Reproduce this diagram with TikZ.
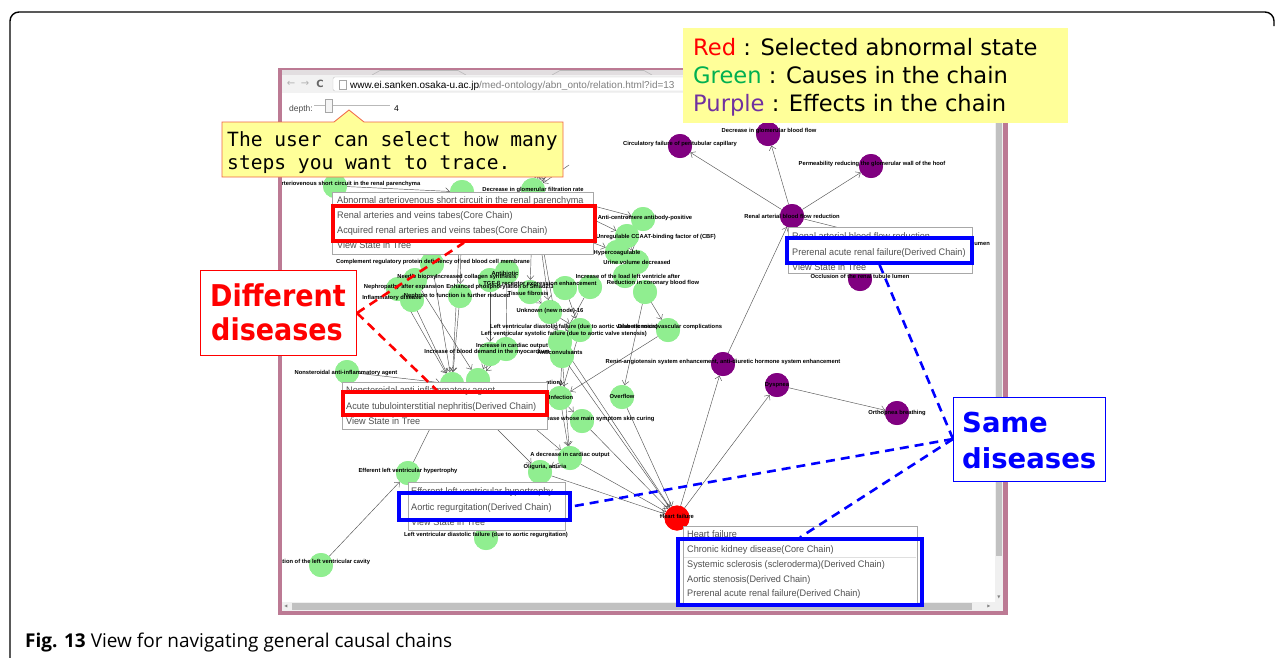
\documentclass[tikz,border=0pt]{standalone}
\usepackage{fontspec}
\usepackage{graphicx}
\setmainfont{Liberation Sans}
\newfontfamily\dejavu{DejaVu Sans}
\newfontfamily\dejavumono{DejaVu Sans Mono}
\newfontfamily\capfont{Open Sans}
\usetikzlibrary{arrows.meta}

\definecolor{winframe}{RGB}{188,122,148}
\definecolor{tabgray}{RGB}{226,222,224}
\definecolor{toolbar}{RGB}{242,242,242}
\definecolor{lgreen}{RGB}{144,238,144}
\definecolor{dpurple}{RGB}{128,0,128}
\definecolor{noteyellow}{RGB}{255,255,153}
\definecolor{calloutedge}{RGB}{240,100,70}
\definecolor{menuedge}{RGB}{168,168,168}
\definecolor{menutext}{RGB}{80,80,80}
\definecolor{officegreen}{RGB}{0,176,80}
\definecolor{officepurple}{RGB}{112,48,160}
\definecolor{edgegray}{RGB}{85,85,85}
\definecolor{scrolltrack}{RGB}{240,240,240}
\definecolor{scrollthumb}{RGB}{193,193,193}

\newcommand{\mtxt}[1]{\scalebox{0.96}[1]{#1}}

\begin{document}
\begin{tikzpicture}[x=1pt,y=-1pt,
  gnode/.style={circle,fill=lgreen,minimum size=24pt,inner sep=0pt},
  pnode/.style={circle,fill=dpurple,minimum size=24pt,inner sep=0pt},
  rnode/.style={circle,fill=red,minimum size=25pt,inner sep=0pt},
  glabel/.style={inner sep=0pt,font=\fontsize{5.8}{6.5}\selectfont\bfseries},
  edge/.style={draw=edgegray,line width=0.45pt,-{Straight Barb[length=4pt,width=7pt]}},
  menubox/.style={draw=menuedge,fill=white,line width=0.7pt,inner sep=0pt},
  mitem/.style={anchor=base west,inner sep=0pt,text=menutext,font=\fontsize{9.5}{11}\selectfont},
  redhl/.style={draw=red,line width=3.3pt,inner sep=0pt},
  bluehl/.style={draw=blue,line width=3.3pt,inner sep=0pt},
  reddash/.style={draw=red,line width=2.6pt,dash pattern=on 9pt off 6pt},
  bluedash/.style={draw=blue,line width=2.6pt,dash pattern=on 9pt off 6pt},
  chrome/.style={inner sep=0pt,text=gray}
]
\useasboundingbox (0,0) rectangle (1284,657);
\fill[white] (0,0) rectangle (1284,657);

% ---------- browser window ----------
\fill[winframe] (278,68) rectangle (1008,615);
\fill[tabgray] (282,70) rectangle (1003,75);
\draw[gray!55,line width=0.6pt] (372,75) -- (380,70.5) -- (458,70.5) -- (466,75);
\draw[gray!55,line width=0.6pt] (552,75) -- (560,70.5) -- (644,70.5) -- (652,75);
\fill[toolbar] (282,75) rectangle (1003,93);
\node[chrome,font=\dejavu\fontsize{10}{12}\selectfont,text=gray!60] (back) at (291,84) {←};
\node[chrome,font=\dejavu\fontsize{10}{12}\selectfont,text=gray!60] (fwd) at (305,84) {→};
\node[chrome,font=\dejavu\fontsize{10}{12}\selectfont\bfseries,text=gray!80!black] (reload) at (320,84) {C};
\draw[gray!45,fill=white,rounded corners=2pt] (333,77) rectangle (760,91);
\draw[gray!70,line width=0.5pt] (339,80) rectangle (346,89);
\node[anchor=base west,inner sep=0pt,font=\fontsize{10}{12}\selectfont] (url) at (350,88)
  {www.ei.sanken.osaka-u.ac.jp\textcolor{gray}{/med-ontology/abn\_onto/relation.html?id=13}};
\fill[white] (282,93) rectangle (995,602);

% depth slider
\node[anchor=base west,inner sep=0pt,text=black!70,font=\fontsize{8.5}{10}\selectfont] (depthlbl) at (289,111) {depth:};
\draw[gray!55,line width=1pt] (314,105) -- (390,105);
\node[draw=gray!70,fill=gray!8,minimum width=7pt,minimum height=13pt,inner sep=0pt] (knob) at (329,106) {};
\node[anchor=base west,inner sep=0pt,font=\fontsize{8.5}{10}\selectfont] (depthval) at (394,111) {4};

% scrollbars
\fill[scrolltrack] (995,93) rectangle (1003,611);
\fill[scrollthumb] (996,96) rectangle (1002,556);
\fill[scrolltrack] (282,602) rectangle (995,611);
\fill[scrollthumb] (292,603) rectangle (972,610);
\node[chrome,font=\dejavu\fontsize{4}{5}\selectfont] (vdown) at (999,597) {▼};
\node[chrome,font=\dejavu\fontsize{4}{5}\selectfont] (hleft) at (286,606.5) {◀};
\node[chrome,font=\dejavu\fontsize{4}{5}\selectfont] (hright) at (989,606.5) {▶};

% ---------- causal chain graph ----------
\begin{scope}
\clip (282,93) rectangle (995,602);

% purple: effects
\node[pnode] (pA) at (680,146) {};
\node[pnode] (pB) at (768,134) {};
\node[pnode] (pC) at (871,166) {};
\node[pnode] (pD) at (792,216) {};
\node[pnode] (pE) at (860,279) {};
\node[pnode] (pX) at (912,246) {};
\node[pnode] (pF) at (723,364) {};
\node[pnode] (pG) at (777,385) {};
\node[pnode] (pH) at (897,413) {};
% red: selected state
\node[rnode] (hf) at (677,518) {};
% green: causes
\node[gnode] (g01) at (335,186) {};
\node[gnode] (g02) at (462,192) {};
\node[gnode] (hub) at (533,190) {};
\node[gnode] (g04) at (643,219) {};
\node[gnode] (g05) at (627,236) {};
\node[gnode] (g06) at (617,252) {};
\node[gnode] (g07) at (637,262) {};
\node[gnode] (g08) at (625,276) {};
\node[gnode] (g09) at (645,292) {};
\node[gnode] (g10) at (432,264) {};
\node[gnode] (g11) at (415,280) {};
\node[gnode] (g12) at (398,289) {};
\node[gnode] (g13) at (412,300) {};
\node[gnode] (g14) at (460,296) {};
\node[gnode] (g15) at (490,280) {};
\node[gnode] (g17) at (507,272) {};
\node[gnode] (g18) at (530,292) {};
\node[gnode] (g19) at (565,288) {};
\node[gnode] (g19b) at (590,287) {};
\node[gnode] (g20) at (550,312) {};
\node[gnode] (g21) at (580,330) {};
\node[gnode] (g22) at (668,330) {};
\node[gnode] (g23) at (560,342) {};
\node[gnode] (g24) at (490,354) {};
\node[gnode] (g25) at (506,349) {};
\node[gnode] (g26) at (562,356) {};
\node[gnode] (g27) at (347,372) {};
\node[gnode] (g28) at (452,384) {};
\node[gnode] (g29) at (478,380) {};
\node[gnode] (g30) at (560,398) {};
\node[gnode] (g31) at (622,397) {};
\node[gnode] (g32) at (582,421) {};
\node[gnode] (g33) at (570,458) {};
\node[gnode] (g34) at (540,472) {};
\node[gnode] (g35) at (408,473) {};
\node[gnode] (g36) at (486,538) {};
\node[gnode] (g37) at (321,565) {};

% incoming links above the filtration-rate node
\coordinate (f1) at (538,160);
\coordinate (f2) at (546,157);
\coordinate (f3) at (553,159);
\coordinate (f4) at (561,162);
\coordinate (f5) at (569,165);

\foreach \a/\b in {pD/pA,pD/pB,pD/pC,pD/pX,pF/pD,hf/pF,hf/pG,pG/pH,
  f1/hub,f2/hub,f3/hub,f4/hub,f5/hub,
  g01/g02,hub/g04,hub/g05,g02/g06,g04/g05,g05/g07,g06/g08,
  hub/g18,hub/g20,hub/g26,g02/g28,g02/g14,
  g10/g28,g12/g28,g14/g28,g13/g28,g11/g29,g15/g24,g17/g25,g18/g20,
  g20/g21,g20/g23,g19/g21,g19b/g23,g21/g30,g23/g26,g24/g29,g25/g29,
  g26/g30,g26/g33,g22/g30,g09/g31,g09/g22,
  g30/g33,g30/g32,g32/hf,g31/hf,g33/hf,g34/hf,g33/g34,g29/g33,g28/g34,
  g27/g28,g35/g28,g37/g35,g26/hf,g23/hf}
  \draw[edge] (\a) -- (\b);
% circles painted again over the links
\foreach \n in {pA,pB,pC,pD,pE,pX,pF,pG,pH}
  \fill[dpurple] (\n) circle (12pt);
\fill[red] (hf) circle (12.5pt);
\foreach \n in {g01,g02,hub,g04,g05,g06,g07,g08,g09,g10,g11,g12,g13,g14,g15,g17,g18,
  g19,g19b,g20,g21,g22,g23,g24,g25,g26,g27,g28,g29,g30,g31,g32,g33,g34,g35,g36,g37}
  \fill[lgreen] (\n) circle (12pt);

% state labels
\node[glabel] (lpA) at (680,144) {Circulatory failure of peritubular capillary};
\node[glabel] (lpB) at (769,131) {Decrease in glomerular blood flow};
\node[glabel] (lpC) at (872,164) {Permeability reducing the glomerular wall of the hoof};
\node[glabel] (lpD) at (792,216) {Renal arterial blood flow reduction};
\node[glabel] (lpE) at (860,276) {Occlusion of the renal tubule lumen};
\node[glabel,anchor=east] (lpX) at (990,243) {lumen};
\node[glabel] (lpF) at (723,362) {Renin-angiotensin system enhancement, anti-diuretic hormone system enhancement};
\node[glabel] (lpG) at (777,385) {Dyspnea};
\node[glabel] (lpH) at (897,413) {Orthopnea breathing};
\node[glabel] (lhf) at (677,516) {Heart failure};
\node[glabel] (l01) at (335,184) {Abnormal arteriovenous short circuit in the renal parenchyma};
\node[glabel] (lhub) at (533,190) {Decrease in glomerular filtration rate};
\node[glabel] (l04) at (645,218) {Anti-centromere antibody-positive};
\node[glabel] (l05) at (656,237) {Unregulable CCAAT-binding factor of (CBF)};
\node[glabel] (l06) at (617,253) {Hypercoagulable};
\node[glabel] (l07) at (637,262) {Urine volume decreased};
\node[glabel] (l08) at (628,276) {Increase of the load left ventricle after};
\node[glabel] (l09) at (653,283) {Reduction in coronary blood flow};
\node[glabel] (l10) at (433,262) {Complement regulatory protein deficiency of red blood cell membrane};
\node[glabel] (l11) at (417,277) {Needle biopsy};
\node[glabel] (l12) at (404,287) {Nephropathy after expansion};
\node[glabel] (l13) at (392,298) {Inflammatory disease};
\node[glabel] (l14) at (457,296) {Nephron to function is further reduced};
\node[glabel] (l15) at (476,277) {Increased collagen synthesis};
\node[glabel] (l17) at (505,273) {Antibiotic};
\node[glabel] (l18) at (528,293) {Tissue fibrosis};
\node[glabel] (l19) at (540,284) {TGF-β receptor expression enhancement};
\node[glabel] (l19b) at (500,287) {Enhanced phosphorylation of Smad2/3};
\node[glabel] (l20) at (550,311) {Unknown (new node)-16};
\node[glabel] (l21) at (574,327) {Left ventricular diastolic failure (due to aortic valve stenosis)};
\node[glabel] (l22) at (670,327) {Diabetic microvascular complications};
\node[glabel] (l23) at (564,334) {Left ventricular systolic failure (due to aortic valve stenosis)};
\node[glabel] (l24) at (487,352) {Increase of blood demand in the myocardium};
\node[glabel] (l25) at (512,346) {Increase in cardiac output};
\node[glabel] (l26) at (560,352) {Anticonvulsants};
\node[glabel] (l27) at (346,373) {Nonsteroidal anti-inflammatory agent};
\node[glabel,anchor=west] (l29) at (546,383) {ation)};
\node[glabel] (l30) at (561,397) {Infection};
\node[glabel] (l31) at (622,396) {Overflow};
\node[glabel] (l32) at (596,419) {Disease whose main symptom skin curing};
\node[glabel] (l33) at (570,455) {A decrease in cardiac output};
\node[glabel] (l34) at (545,467) {Oliguria, anuria};
\node[glabel] (l35) at (408,471) {Efferent left ventricular hypertrophy};
\node[glabel] (l36) at (486,535) {Left ventricular diastolic failure (due to aortic regurgitation)};
\node[glabel] (l37) at (321,562) {Dilation of the left ventricular cavity};
\end{scope}

% ---------- context menus ----------
\node[menubox,minimum width=261pt,minimum height=62pt] (menuA) at (462.5,223) {};
\node[mitem] (mA1) at (337,203) {\mtxt{Abnormal arteriovenous short circuit in the renal parenchyma}};
\node[mitem] (mA2) at (337,218) {\mtxt{Renal arteries and veins tabes(Core Chain)}};
\node[mitem] (mA3) at (337,233) {\mtxt{Acquired renal arteries and veins tabes(Core Chain)}};
\node[mitem] (mA4) at (337,248) {\mtxt{View State in Tree}};
\node[redhl,minimum width=262pt,minimum height=35pt] (hlA) at (464,223.5) {};

\node[menubox,minimum width=205pt,minimum height=47pt] (menuB) at (444.5,405.5) {};
\node[mitem] (mB1) at (346,393) {\mtxt{Nonsteroidal anti-inflammatory agent}};
\node[mitem] (mB2) at (346,409) {\mtxt{Acute tubulointerstitial nephritis(Derived Chain)}};
\node[mitem] (mB3) at (346,424) {\mtxt{View State in Tree}};
\node[redhl,minimum width=204pt,minimum height=23pt] (hlB) at (445,403.5) {};

\node[menubox,minimum width=157pt,minimum height=48pt] (menuC) at (486.5,506) {};
\node[mitem] (mC1) at (411,494) {\mtxt{Efferent left ventricular hypertrophy}};
\node[mitem] (mC2) at (411,510) {\mtxt{Aortic regurgitation(Derived Chain)}};
\node[mitem] (mC3) at (411,525) {\mtxt{View State in Tree}};
\node[bluehl,minimum width=171pt,minimum height=27pt] (hlC) at (484.5,506.5) {};

\node[menubox,minimum width=234pt,minimum height=77pt] (menuD) at (800,564.5) {};
\draw[gray!25,line width=0.6pt] (684,557) -- (916,557);
\node[mitem] (mD1) at (687,537) {\mtxt{Heart failure}};
\node[mitem] (mD2) at (687,552) {\mtxt{Chronic kidney disease(Core Chain)}};
\node[mitem] (mD3) at (687,567) {\mtxt{Systemic sclerosis (scleroderma)(Derived Chain)}};
\node[mitem] (mD4) at (687,582) {\mtxt{Aortic stenosis(Derived Chain)}};
\node[mitem] (mD5) at (687,596) {\mtxt{Prerenal acute renal failure(Derived Chain)}};
\node[bluehl,minimum width=244pt,minimum height=66pt] (hlD) at (800,572) {};

\node[menubox,minimum width=184pt,minimum height=46pt] (menuE) at (880,250) {};
\node[mitem] (mE1) at (792,239) {\mtxt{Renal arterial blood flow reduction}};
\node[mitem] (mE2) at (792,255) {\mtxt{Prerenal acute renal failure(Derived Chain)}};
\node[mitem] (mE3) at (792,270) {\mtxt{View State in Tree}};
\node[bluehl,minimum width=185pt,minimum height=25pt] (hlE) at (879.5,250.5) {};

% ---------- callout about the depth slider ----------
\draw[fill=noteyellow,draw=calloutedge,line width=0.8pt]
  (222,122) -- (334,122) -- (349,110) -- (364,122) -- (563,122) -- (563,177) -- (222,177) -- cycle;
\node[anchor=base west,inner sep=0pt,font=\dejavumono\fontsize{19.6}{23}\selectfont] (call1) at (227,146) {The user can select how many};
\node[anchor=base west,inner sep=0pt,font=\dejavumono\fontsize{19.6}{23}\selectfont] (call2) at (227,169) {steps you want to trace.};

% ---------- colour legend ----------
\node[fill=noteyellow,minimum width=385pt,minimum height=95pt,inner sep=0pt] (legend) at (875.5,75.5) {};
\node[anchor=base west,inner sep=0pt,font=\dejavu\fontsize{22.6}{28}\selectfont] (leg1) at (693,55)
  {\textcolor{red}{Red} : Selected abnormal state};
\node[anchor=base west,inner sep=0pt,font=\dejavu\fontsize{22.6}{28}\selectfont] (leg2) at (693,83)
  {\textcolor{officegreen}{Green} : Causes in the chain};
\node[anchor=base west,inner sep=0pt,font=\dejavu\fontsize{22.6}{28}\selectfont] (leg3) at (693,111)
  {\textcolor{officepurple}{Purple} : Effects in the chain};

% ---------- annotations ----------
\coordinate (diffpt) at (357,313);
\draw[reddash] (diffpt) -- (hlA.south);
\draw[reddash] (diffpt) -- ([xshift=-8pt]hlB.north);
\node[draw=red,fill=white,line width=0.8pt,minimum width=156pt,minimum height=85pt,inner sep=0pt] (diff) at (278,313) {};
\node[anchor=base,inner sep=0pt,text=red,font=\dejavu\fontsize{30}{34}\selectfont\bfseries] (diff1) at (278,306) {\scalebox{0.9}[1]{Different}};
\node[anchor=base,inner sep=0pt,text=red,font=\dejavu\fontsize{30}{34}\selectfont\bfseries] (diff2) at (277,340) {\scalebox{0.9}[1]{diseases}};

\coordinate (samept) at (953,439);
\draw[bluedash] (samept) -- (hlE.south);
\draw[bluedash] (samept) -- (hlC.east);
\draw[bluedash] (samept) -- (hlD.north);
\node[draw=blue,fill=white,line width=0.8pt,minimum width=152pt,minimum height=84pt,inner sep=0pt] (same) at (1029,439) {};
\node[anchor=base west,inner sep=0pt,text=blue,font=\dejavu\fontsize{27.5}{32}\selectfont\bfseries] (same1) at (962,432) {Same};
\node[anchor=base west,inner sep=0pt,text=blue,font=\dejavu\fontsize{27.5}{32}\selectfont\bfseries] (same2) at (962,468) {diseases};

% ---------- figure frame and caption ----------
\draw[line width=1.4pt,rounded corners=9pt] (10,660) -- (10,12) -- (1274,12) -- (1274,26);
\node[anchor=base west,inner sep=0pt,font=\capfont\fontsize{19}{22}\selectfont] (caption) at (25,647)
  {\textbf{Fig. 13} View for navigating general causal chains};
\end{tikzpicture}
\end{document}
